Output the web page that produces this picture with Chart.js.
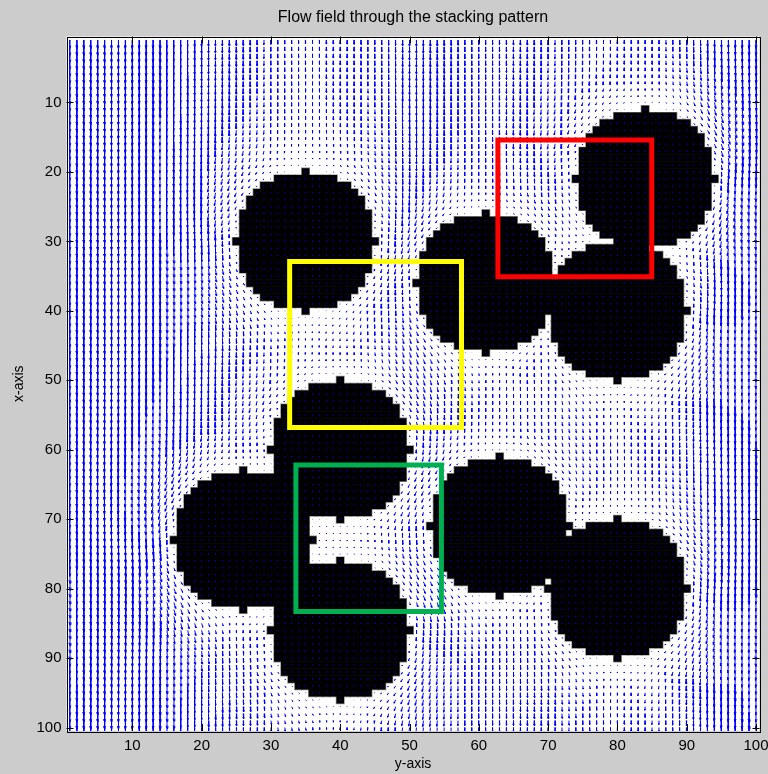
<!DOCTYPE html>
<html>
<head>
<meta charset="utf-8">
<title>Flow field through the stacking pattern</title>
<script src="https://cdn.jsdelivr.net/npm/chart.js@4.4.0/dist/chart.umd.min.js"></script>
<style>
  html, body { margin: 0; padding: 0; background: #cccccc; overflow: hidden; }
  canvas { display: block; }
</style>
</head>
<body>
<canvas id="flow" width="768" height="774"></canvas>
<script>
// lattice of the simulation (nodes 1..100 in both directions)
const gridSize = 100;

// tick labels
const xTicks = [10, 20, 30, 40, 50, 60, 70, 80, 90, 100];
const yTicks = [10, 20, 30, 40, 50, 60, 70, 80, 90, 100];

// stacked particles: centre column, centre row, radius (lattice units)
const particleX = [35, 84, 61, 80, 40, 26, 63, 40, 80];
const particleY = [30, 21, 36, 40, 60, 73, 71, 86, 80];
const particleR = [10, 10, 10, 10, 10, 10, 10, 10, 10];

// inflow speed, reach of the wall slow-down, reach of the deflection
// and how strongly a blocked column holds back the stream
const inflow = 1.0;
const wallDecay = 2.5;
const deflectReach = 6;
const blockage = 2;

// marked windows (red, yellow, green)
const boxLeft = [62.75, 32.7, 33.6];
const boxRight = [84.95, 57.5, 54.6];
const boxTop = [15.4, 32.9, 62.2];
const boxBottom = [35.1, 56.8, 83.3];
const boxColors = ['#ff0000', '#ffff00', '#00b050'];

function isSolid(x, y) {
	for (let k = 0; k < particleX.length; k++) {
		const dx = x - particleX[k];
		const dy = y - particleY[k];
		if (dx * dx + dy * dy <= particleR[k] * particleR[k]) return true;
	}
	return false;
}

// how much of each column is blocked, smeared sideways a little
let blocked = [];
for (let x = 1; x <= gridSize; x++) {
	let n = 0;
	for (let y = 1; y <= gridSize; y++) if (isSolid(x, y)) n++;
	blocked[x] = n / gridSize;
}
let columnSpeed = [];
for (let x = 1; x <= gridSize; x++) {
	let s = 0, w = 0;
	for (let k = 1; k <= gridSize; k++) {
		const g = Math.exp(-(x - k) * (x - k) / 18);
		s += blocked[k] * g;
		w += g;
	}
	columnSpeed[x] = 1 / (1 + blockage * s / w);
}

// potential flow round each cylinder, damped near the walls
function velocity(x, y) {
	let u = 0, v = inflow, damp = 1;
	for (let k = 0; k < particleX.length; k++) {
		const dx = x - particleX[k];
		const dy = y - particleY[k];
		const r2 = dx * dx + dy * dy;
		const R2 = (particleR[k] + 0.5) * (particleR[k] + 0.5);
		const gap = Math.sqrt(r2) - particleR[k];
		const reach = Math.exp(-gap / deflectReach);
		v -= reach * inflow * R2 * (dy * dy - dx * dx) / (r2 * r2);
		u -= reach * inflow * 2 * R2 * dx * dy / (r2 * r2);
		damp *= 1 - Math.exp(-gap / wallDecay);
	}
	return [u * damp * columnSpeed[x], v * damp * columnSpeed[x]];
}

let solidCells = [];
let fluid = [];
let maxSpeed = 0;
for (let y = 1; y <= gridSize; y++) {
	for (let x = 1; x <= gridSize; x++) {
		if (isSolid(x, y)) {
			solidCells.push({x: x, y: y});
			continue;
		}
		const vel = velocity(x, y);
		fluid.push([x, y, vel[0], vel[1]]);
		maxSpeed = Math.max(maxSpeed, Math.hypot(vel[0], vel[1]));
	}
}

// quiver style autoscale and arrow heads
const arrowScale = 0.9 * Math.SQRT2 / maxSpeed;
const alpha = 0.33, beta = 0.33;
let arrowPath = [];
fluid.forEach(function (f) {
	const u = f[2] * arrowScale;
	const v = f[3] * arrowScale;
	const tx = f[0] + u, ty = f[1] + v;
	arrowPath.push(
		{x: f[0], y: f[1]},
		{x: tx, y: ty},
		{x: tx - alpha * (u + beta * v), y: ty - alpha * (v - beta * u)},
		{x: tx, y: ty},
		{x: tx - alpha * (u - beta * v), y: ty - alpha * (v + beta * u)},
		{x: tx, y: null}
	);
});

function cellRadius(ctx, grow) {
	const sx = ctx.chart.scales.x;
	const side = Math.abs(sx.getPixelForValue(1) - sx.getPixelForValue(0));
	return (side + grow) / Math.SQRT2;
}

let datasets = [];
for (let i = 0; i < boxColors.length; i++) {
	datasets.push({
		type: 'line',
		data: [
			{x: boxLeft[i], y: boxTop[i]},
			{x: boxRight[i], y: boxTop[i]},
			{x: boxRight[i], y: boxBottom[i]},
			{x: boxLeft[i], y: boxBottom[i]},
			{x: boxLeft[i], y: boxTop[i]}
		],
		borderColor: boxColors[i],
		borderWidth: 5,
		borderCapStyle: 'square',
		borderJoinStyle: 'miter',
		pointRadius: 0,
		fill: false,
		order: 0
	});
}
datasets.push({
	data: solidCells,
	pointStyle: 'rect',
	pointRadius: 0.8,
	backgroundColor: '#0000ff',
	borderWidth: 0,
	order: 1
});
datasets.push({
	type: 'line',
	data: arrowPath,
	borderColor: '#0000ff',
	borderWidth: 1,
	borderJoinStyle: 'bevel',
	pointRadius: 0,
	spanGaps: false,
	fill: false,
	order: 2
});
datasets.push({
	data: solidCells,
	pointStyle: 'rect',
	pointRadius: function (ctx) { return cellRadius(ctx, 0.6); },
	backgroundColor: '#000000',
	borderWidth: 0,
	order: 3
});
datasets.push({
	data: solidCells,
	pointStyle: 'rect',
	pointRadius: function (ctx) { return cellRadius(ctx, 2); },
	backgroundColor: '#8a8a8a',
	borderWidth: 0,
	order: 4
});

const titleText = 'Flow field through the stacking pattern';

// grey figure, white plot area, title, inward ticks and the axes box
const frame = {
	id: 'frame',
	beforeDraw(chart) {
		const ctx = chart.ctx, a = chart.chartArea;
		ctx.save();
		ctx.fillStyle = '#cccccc';
		ctx.fillRect(0, 0, chart.width, chart.height);
		ctx.fillStyle = '#ffffff';
		ctx.fillRect(a.left, a.top, a.right - a.left, a.bottom - a.top);
		ctx.fillStyle = '#000000';
		ctx.font = "16px 'Liberation Sans', Arial, sans-serif";
		ctx.textAlign = 'center';
		ctx.textBaseline = 'middle';
		ctx.fillText(titleText, (a.left + a.right) / 2, 18);
		ctx.restore();
	},
	afterDatasetsDraw(chart) {
		const ctx = chart.ctx, a = chart.chartArea;
		const sx = chart.scales.x, sy = chart.scales.y;
		ctx.save();
		ctx.strokeStyle = '#000000';
		ctx.lineWidth = 1;
		ctx.beginPath();
		xTicks.forEach(function (t) {
			const px = Math.round(sx.getPixelForValue(t)) + 0.5;
			ctx.moveTo(px, a.bottom); ctx.lineTo(px, a.bottom - 7);
			ctx.moveTo(px, a.top); ctx.lineTo(px, a.top + 7);
		});
		yTicks.forEach(function (t) {
			const py = Math.round(sy.getPixelForValue(t)) + 0.5;
			ctx.moveTo(a.left, py); ctx.lineTo(a.left + 7, py);
			ctx.moveTo(a.right, py); ctx.lineTo(a.right - 7, py);
		});
		ctx.stroke();
		ctx.strokeRect(Math.round(a.left) + 0.5, Math.round(a.top) + 0.5,
			Math.round(a.right - a.left), Math.round(a.bottom - a.top));
		ctx.restore();
	}
};

Chart.defaults.font.family = "'Liberation Sans', Arial, sans-serif";
Chart.defaults.color = '#000000';

const chart = new Chart(document.getElementById('flow'), {
	type: 'scatter',
	data: {datasets: datasets},
	options: {
		responsive: false,
		animation: false,
		devicePixelRatio: 1,
		events: [],
		layout: {padding: {left: 0, right: 8.5, top: 36.5, bottom: 0}},
		scales: {
			x: {
				type: 'linear',
				min: 0.5,
				max: 100.5,
				afterBuildTicks: function (s) { s.ticks = xTicks.map(function (v) { return {value: v}; }); },
				afterFit: function (s) { s.height = 43; s.paddingLeft = 0; s.paddingRight = 0; },
				grid: {display: false, drawTicks: false, tickLength: 0},
				border: {display: false},
				ticks: {font: {size: 15}, padding: 6, maxRotation: 0, autoSkip: false},
				title: {display: true, text: 'y-axis', font: {size: 14}, padding: {top: 0, bottom: 1.5}}
			},
			y: {
				type: 'linear',
				reverse: true,
				min: 0.5,
				max: 100.5,
				afterBuildTicks: function (s) { s.ticks = yTicks.map(function (v) { return {value: v}; }); },
				afterFit: function (s) { s.width = 66.5; s.paddingTop = 0; s.paddingBottom = 0; },
				grid: {display: false, drawTicks: false, tickLength: 0},
				border: {display: false},
				ticks: {font: {size: 15}, padding: 5, autoSkip: false},
				title: {display: true, text: 'x-axis', font: {size: 14}, padding: {top: 11, bottom: 0}}
			}
		},
		plugins: {
			legend: {display: false},
			tooltip: {enabled: false},
			title: {display: false}
		}
	},
	plugins: [frame]
});
</script>
</body>
</html>
